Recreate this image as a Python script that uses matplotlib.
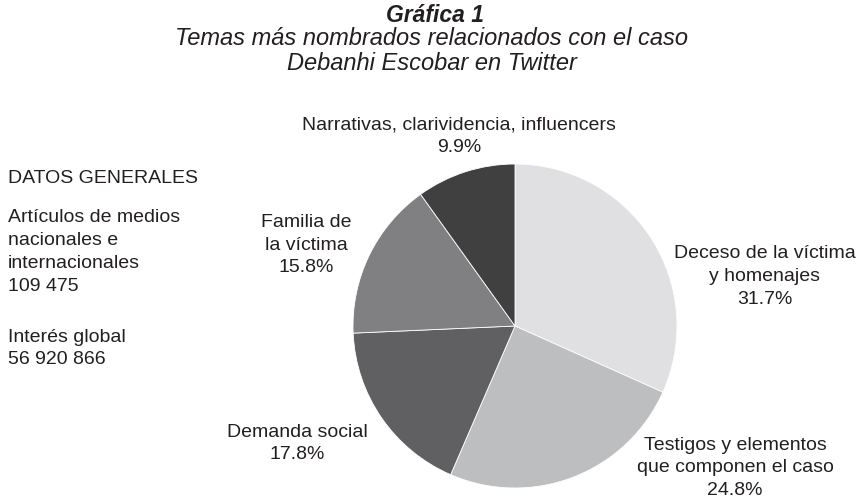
import matplotlib
matplotlib.use("Agg")
import matplotlib.pyplot as plt

plt.rcParams['font.family'] = ['Liberation Sans', 'DejaVu Sans']

# data
temas = ['Deceso de la víctima\ny homenajes',
         'Testigos y elementos\nque componen el caso',
         'Demanda social',
         'Familia de\nla víctima',
         'Narrativas, clarividencia, influencers']
porcentajes = [31.7, 24.8, 17.8, 15.8, 9.9]
colores = ['#e0e0e2', '#bdbec0', '#606062', '#808083', '#404041']

datos_generales = ['DATOS GENERALES',
                   'Artículos de medios\nnacionales e\ninternacionales\n109 475',
                   'Interés global\n56 920 866']

W, H = 862, 501
txt = '#231f20'

def fx(x):
    return x / W

def fy(y):
    return 1 - y / H

fig = plt.figure(figsize=(W / 100, H / 100), dpi=100)

# pie axes, center (515, 326) px, radius 162 px
cx, cy, r = 515, 326, 162
ax = fig.add_axes([fx(cx - r), fy(cy + r), 2 * r / W, 2 * r / H])
ax.pie(porcentajes, colors=colores, startangle=90, counterclock=False,
       wedgeprops=dict(edgecolor='white', linewidth=0.6))
ax.set_xlim(-1, 1)
ax.set_ylim(-1, 1)
ax.set_aspect('auto')
ax.axis('off')

# titles
fig.text(fx(435), fy(15), 'Gráfica 1', ha='center', va='center',
         fontsize=16.5, fontweight='bold', style='italic', color=txt)
fig.text(fx(432), fy(51), 'Temas más nombrados relacionados con el caso\nDebanhi Escobar en Twitter',
         ha='center', va='center', fontsize=17, style='italic', color=txt, linespacing=1.06)

# slice labels (center px positions)
pos = [(765, 276.5), (735, 468), (297, 443.5), (306, 245), (459, 136.5)]
for t, p, (x, y) in zip(temas, porcentajes, pos):
    fig.text(fx(x), fy(y), f'{t}\n{p}%', ha='center', va='center',
             fontsize=14, color=txt, linespacing=1.45)

# left block
for t, y in zip(datos_generales, [178, 252, 348.5]):
    fig.text(fx(8), fy(y), t, ha='left', va='center',
             fontsize=14, color=txt, linespacing=1.45)

fig.savefig('out.png', dpi=100, facecolor='white')
